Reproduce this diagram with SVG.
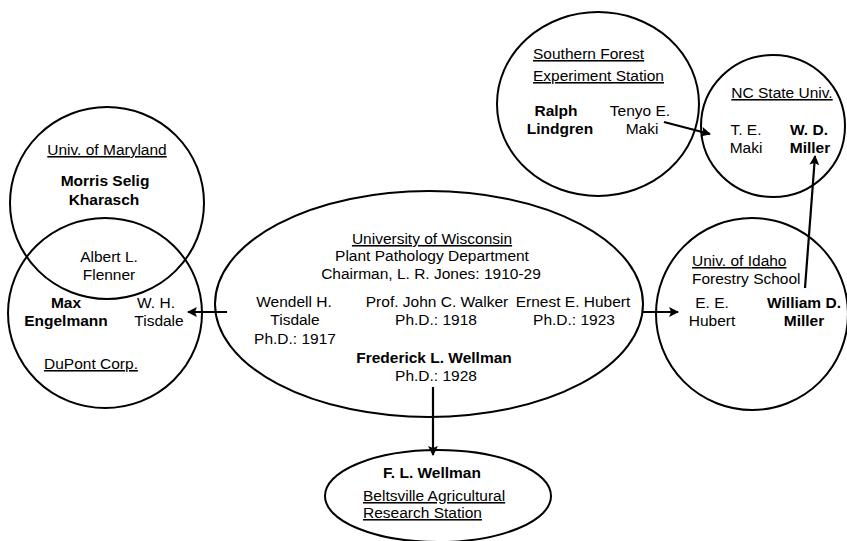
<svg xmlns="http://www.w3.org/2000/svg" width="847" height="541" viewBox="0 0 847 541">
<style>
text{font-family:"Liberation Sans",Arial,sans-serif;font-size:15.5px;fill:#000;text-anchor:middle}
.b{font-weight:bold}
.u{text-decoration:underline}
.l{text-anchor:start}
.shape{fill:none;stroke:#000;stroke-width:2}
.conn{fill:none;stroke:#000;stroke-width:2.2}
</style>
<defs>
<marker id="ah" viewBox="0 0 10 10" refX="9" refY="5" markerWidth="5" markerHeight="4.5" orient="auto" markerUnits="strokeWidth">
<path d="M0,0 L10,5 L0,10 L2,5 z" fill="#000"/>
</marker>
</defs>
<rect width="847" height="541" fill="#fff"/>
<g id="maryland">
<ellipse class="shape" cx="107" cy="203" rx="97" ry="96"/>
<text class="u" x="107" y="155">Univ. of Maryland</text>
<text class="b" x="105" y="186">Morris Selig</text>
<text class="b" x="104" y="205">Kharasch</text>
<text x="109" y="262">Albert L.</text>
<text x="109" y="280">Flenner</text>
</g>
<g id="dupont">
<ellipse class="shape" cx="105" cy="313" rx="97" ry="95"/>
<text class="b" x="66" y="308">Max</text>
<text class="b" x="66" y="326">Engelmann</text>
<text x="156" y="308">W. H.</text>
<text x="159" y="326">Tisdale</text>
<text class="u" x="91" y="369">DuPont Corp.</text>
</g>
<g id="wisconsin">
<ellipse class="shape" cx="429" cy="304" rx="214" ry="113"/>
<text class="u" x="432" y="244">University of Wisconsin</text>
<text x="432" y="261">Plant Pathology Department</text>
<text x="431" y="279">Chairman, L. R. Jones: 1910-29</text>
<text x="294" y="307">Wendell H.</text>
<text x="295" y="325">Tisdale</text>
<text x="295" y="344">Ph.D.: 1917</text>
<text x="437" y="307">Prof. John C. Walker</text>
<text x="436" y="325">Ph.D.: 1918</text>
<text x="573" y="307">Ernest E. Hubert</text>
<text x="574" y="325">Ph.D.: 1923</text>
<text class="b" x="434" y="363">Frederick L. Wellman</text>
<text x="436" y="381">Ph.D.: 1928</text>
</g>
<g id="beltsville">
<ellipse class="shape" cx="438" cy="496" rx="113" ry="46"/>
<text class="b" x="432" y="478">F. L. Wellman</text>
<text class="u l" x="363" y="501">Beltsville Agricultural</text>
<text class="u l" x="363" y="518">Research Station</text>
</g>
<g id="southern">
<ellipse class="shape" cx="598" cy="104" rx="101" ry="92"/>
<text class="u l" x="533" y="59">Southern Forest</text>
<text class="u l" x="533" y="81">Experiment Station</text>
<text class="b" x="556" y="116">Ralph</text>
<text class="b" x="560" y="134">Lindgren</text>
<text x="640" y="116">Tenyo E.</text>
<text x="642" y="134">Maki</text>
</g>
<g id="ncstate">
<ellipse class="shape" cx="773" cy="126" rx="72" ry="71"/>
<text class="u" x="782" y="98">NC State Univ.</text>
<text x="746" y="135">T. E.</text>
<text x="746" y="153">Maki</text>
<text class="b" x="809" y="135">W. D.</text>
<text class="b" x="810" y="153">Miller</text>
</g>
<g id="idaho">
<ellipse class="shape" cx="752" cy="314" rx="96" ry="96"/>
<text class="u l" x="692" y="266">Univ. of Idaho</text>
<text class="l" x="692" y="284">Forestry School</text>
<text x="712" y="308">E. E.</text>
<text x="712" y="326">Hubert</text>
<text class="b" x="804" y="308">William D.</text>
<text class="b" x="804" y="326">Miller</text>
</g>
<g id="connectors">
<line class="conn" x1="227" y1="312" x2="188" y2="312" marker-end="url(#ah)"/>
<line class="conn" x1="642" y1="312" x2="678" y2="312" marker-end="url(#ah)"/>
<line class="conn" x1="433" y1="387" x2="433" y2="455" marker-end="url(#ah)"/>
<line class="conn" x1="664" y1="122" x2="710" y2="134" marker-end="url(#ah)"/>
<line class="conn" x1="805" y1="288" x2="815" y2="156" marker-end="url(#ah)"/>
</g>
</svg>
